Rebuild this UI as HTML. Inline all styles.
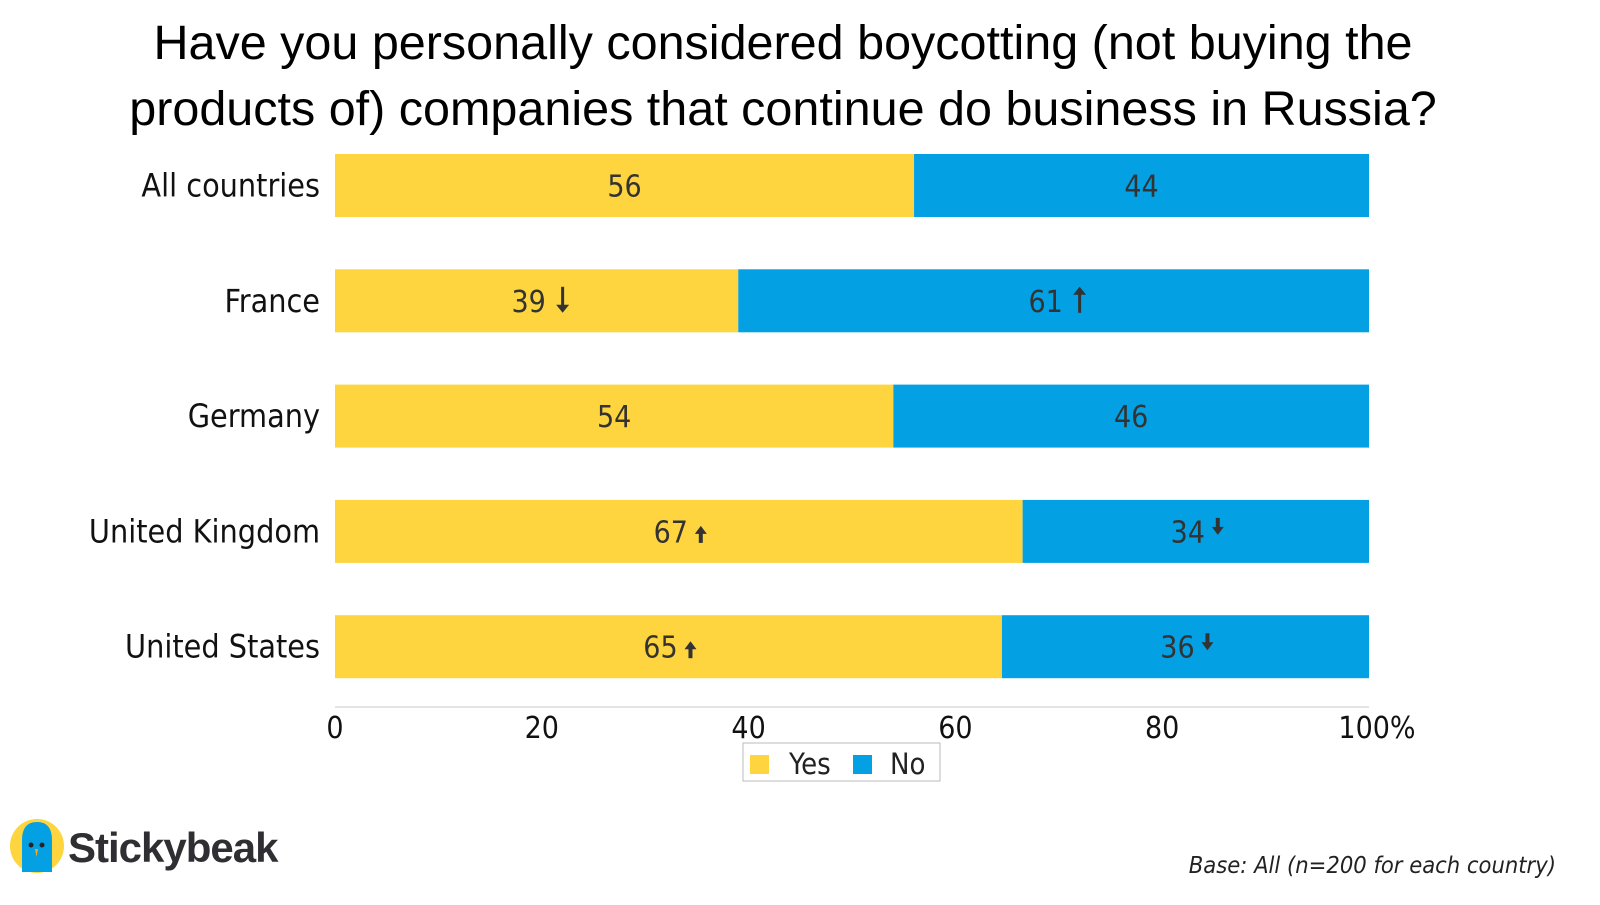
<!DOCTYPE html>
<html><head><meta charset="utf-8"><style>
body{margin:0;background:#fff;width:1600px;height:900px;overflow:hidden;font-family:"Liberation Sans",sans-serif}
</style></head><body>
<svg id="c" width="1600" height="900" xmlns="http://www.w3.org/2000/svg">
<text x="783" y="59" text-anchor="middle" font-size="48.5" fill="#000">Have you personally considered boycotting (not buying the</text>
<text x="783" y="125" text-anchor="middle" font-size="48.5" fill="#000">products of) companies that continue do business in Russia?</text>
<g id="bars"></g>
<line x1="335" y1="707" x2="1369" y2="707" stroke="#e4e4e4" stroke-width="2"/>
<g id="ticks"></g>
<g>
<rect x="743" y="743" width="197" height="38" fill="#fff" stroke="#bbb"/>
<rect x="750" y="755" width="19" height="19" fill="#FED53E"/>
<text x="789" y="774" font-size="29" fill="#222" font-family="DejaVu Sans Condensed, Liberation Sans, sans-serif">Yes</text>
<rect x="853" y="755" width="19" height="19" fill="#03A1E4"/>
<text x="890" y="774" font-size="29" fill="#222" font-family="DejaVu Sans Condensed, Liberation Sans, sans-serif">No</text>
</g>
<g>
<circle cx="37" cy="846" r="27" fill="#FED53E"/>
<path d="M22 872 L22 840 Q22 822 37 822 Q52 822 52 840 L52 872 Z" fill="#03A1E4"/>
<circle cx="31" cy="845" r="2.5" fill="#222"/><circle cx="42" cy="845" r="2.5" fill="#222"/>
<path d="M35 849 L38 849 L36.5 857 Z" fill="#F5A623"/>
<text x="68" y="862" font-size="42" font-weight="bold" fill="#2e2e33" letter-spacing="-1">Stickybeak</text>
</g>
<text x="1556" y="873" text-anchor="end" font-size="23.5" font-style="italic" fill="#222" font-family="DejaVu Sans Condensed, Liberation Sans, sans-serif">Base: All (n=200 for each country)</text>
</svg>
<script>
const categories=["All countries","France","Germany","United Kingdom","United States"];
const yesValues=[56,39,54,66.5,64.5];
const noValues=[44,61,46,34,36];
const yesLabels=["56","39","54","67","65"];
const noLabels=["44","61","46","34","36"];
const yesArrows=["","down","","up","up"];
const noArrows=["","up","","down","down"];
const tickValues=[0,20,40,60,80,100];
const tickLabels=["0","20","40","60","80","100%"];
const NS="http://www.w3.org/2000/svg";
const x=v=>335+v*10.34;
const yc=i=>185.5+i*115.3;
const bh=63;
const bars=document.getElementById('bars');
function mk(t,a,p){const e=document.createElementNS(NS,t);for(const k in a)e.setAttribute(k,a[k]);(p||bars).appendChild(e);return e;}
function arrow(cx,cy,dir,big){
  const g=mk('g',{});
  const h=big?26:17, w=big?13:12, sw=big?3:4;
  const s=dir==="up"?-1:1;
  const tip=cy+s*h/2, base=cy-s*h/2;
  mk('line',{x1:cx,y1:base,x2:cx,y2:tip-s*6,stroke:'#333','stroke-width':sw},g);
  mk('path',{d:`M${cx-w/2} ${tip-s*8} L${cx+w/2} ${tip-s*8} L${cx} ${tip} Z`,fill:'#333'},g);
  return g;
}
const fnt='"DejaVu Sans Condensed","Liberation Sans",sans-serif';
categories.forEach((c,i)=>{
  const cy=yc(i);
  const lab=mk('text',{x:320,y:cy+11,'text-anchor':'end','font-size':32,fill:'#111','font-family':fnt});
  lab.textContent=c;
  
  
  const y1=mk('rect',{x:x(0),y:cy-bh/2,width:x(yesValues[i])-x(0),height:bh,fill:'#FED53E'});
  
  
  const ne=Math.min(x(yesValues[i]+noValues[i]),x(100));
  const n1=mk('rect',{x:x(yesValues[i]),y:cy-bh/2,width:Math.max(0,ne-x(yesValues[i])),height:bh,fill:'#03A1E4'});
  
  
  [[x(yesValues[i]/2),yesLabels[i],yesArrows[i],'yes'],[(x(yesValues[i])+ne)/2,noLabels[i],noArrows[i],'no']].forEach(([mx,t,ar,k])=>{
    const tx=mk('text',{x:ar?mx-8:mx,y:cy+11,'text-anchor':'middle','font-size':30,fill:'#333','font-family':fnt});
    tx.textContent=t;
    
    
    if(ar){const big=(i===1);const ay=big?cy-1:(ar==="up"?cy+3:cy-5);const a=arrow(mx+(big?26:22),ay,ar,big);
      
      }
  });
});
const tg=document.getElementById('ticks');
tickValues.forEach((v,i)=>{
  const t=mk('text',{x:x(v)+(i===5?8:0),y:738,'text-anchor':'middle','font-size':30,fill:'#111','font-family':fnt},tg);
  t.textContent=tickLabels[i];
  
  
});
</script>
</body></html>
